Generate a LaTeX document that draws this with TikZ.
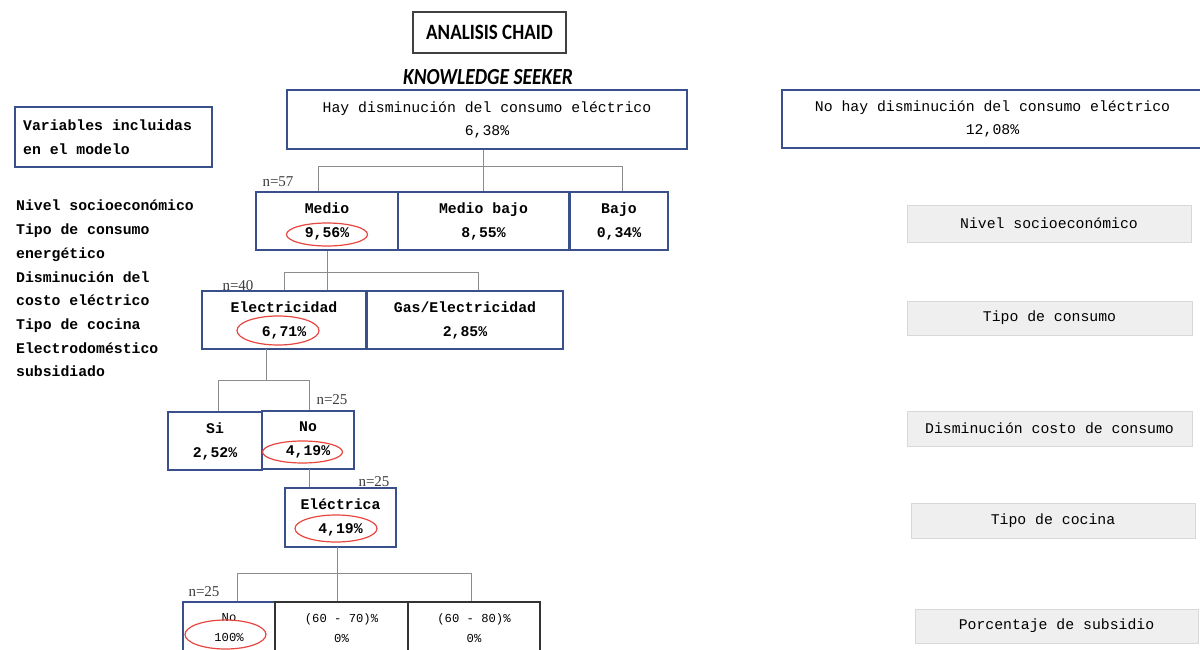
\documentclass[tikz,border=0pt]{standalone}
\usepackage{fontspec}
\setmainfont{Liberation Serif}
\newfontfamily\monofont{Liberation Mono}
\newfontfamily\calfont{Carlito}
\usetikzlibrary{shapes.geometric}
\definecolor{boxblue}{RGB}{58,80,140}
\definecolor{linegray}{RGB}{140,140,140}
\definecolor{markred}{RGB}{232,70,64}
\definecolor{panelfill}{RGB}{239,239,239}
\definecolor{paneledge}{RGB}{216,216,216}
\definecolor{countgray}{RGB}{60,60,60}

\begin{document}
\begin{tikzpicture}[x=1pt,y=-1pt,
  titlebox/.style={draw=black!75, line width=1.2pt, inner sep=0pt,
    minimum width=153, minimum height=41,
    font=\calfont\bfseries\fontsize{19}{20}\selectfont},
  topbox/.style={draw=boxblue, line width=1.4pt, fill=white, align=center, inner sep=0pt,
    font=\monofont\fontsize{14.8}{23}\selectfont},
  treebox/.style={draw=boxblue, line width=1.4pt, fill=white, align=center, inner sep=0pt,
    minimum height=58, font=\monofont\bfseries\fontsize{14.8}{24}\selectfont},
  leafbox/.style={draw=boxblue, line width=1.4pt, fill=white, align=center, inner sep=0pt,
    minimum height=52, font=\monofont\fontsize{12.2}{20}\selectfont},
  leafdark/.style={leafbox, draw=black!80},
  panel/.style={draw=paneledge, line width=0.8pt, fill=panelfill, inner sep=0pt,
    font=\monofont\fontsize{14.8}{18}\selectfont},
  conn/.style={draw=linegray, line width=1pt},
  ring/.style={ellipse, draw=markred, line width=1.2pt, inner sep=0pt},
  count/.style={text=countgray, inner sep=0pt, font=\fontsize{15}{16}\selectfont}
]
\useasboundingbox (0,0) rectangle (1200,650);
\clip (0,0) rectangle (1200,650);

% heading
\node[titlebox] (title) at (489.5,32.5) {\scalebox{1}[1.15]{ANALISIS CHAID}};
\node[inner sep=0pt, font=\calfont\bfseries\itshape\fontsize{19.5}{20}\selectfont]
  (seeker) at (488,77) {\scalebox{1}[1.18]{KNOWLEDGE SEEKER}};

% root classes
\node[topbox, minimum width=400, minimum height=59] (hay) at (487,119.5)
  {Hay disminución del consumo eléctrico\\6,38\%};
\node[topbox, minimum width=421, minimum height=58] (nohay) at (992.5,119)
  {No hay disminución del consumo eléctrico\\12,08\%};

% left legend
\node[draw=boxblue, line width=1.3pt, inner sep=0pt, minimum width=197, minimum height=60]
  (vars) at (113.5,137) {};
\node[anchor=west, align=left, inner sep=0pt,
  font=\monofont\bfseries\fontsize{14.8}{24}\selectfont]
  (varstext) at (23,137) {Variables incluidas\\en el modelo};
\node[anchor=north west, align=left, inner sep=0pt,
  font=\monofont\bfseries\fontsize{14.8}{23.7}\selectfont] (varlist) at (16,200)
  {Nivel socioeconómico\\Tipo de consumo\\energético\\Disminución del\\costo eléctrico\\
   Tipo de cocina\\Electrodoméstico\\subsidiado};

% level 1
\node[treebox, minimum width=142] (medio) at (327,221) {Medio\\9,56\%};
\node[treebox, minimum width=171] (mediobajo) at (483.5,221) {Medio bajo\\8,55\%};
\node[treebox, minimum width=98] (bajo) at (619,221) {Bajo\\0,34\%};

% level 2
\node[treebox, minimum width=164] (elec) at (284,320) {Electricidad\\6,71\%};
\node[treebox, minimum width=196] (gas) at (465,320) {Gas/Electricidad\\2,85\%};

% level 3
\node[treebox, minimum width=94] (si) at (215,441) {Si\\2,52\%};
\node[treebox, minimum width=92] (no) at (308,440) {No\\4,19\%};

% level 4
\node[treebox, minimum width=111, minimum height=59] (electrica) at (340.5,517.5) {Eléctrica\\4,19\%};

% level 5
\node[leafbox, minimum width=92] (nosub) at (229,628) {No\\100\%};
\node[leafdark, minimum width=133] (sub70) at (341.5,628) {(60 - 70)\%\\0\%};
\node[leafdark, minimum width=132] (sub80) at (474,628) {(60 - 80)\%\\0\%};

% branch connectors
\coordinate (a1) at (318,167);
\coordinate (a2) at (622,167);
\draw[conn] (hay.south -| mediobajo.north) -- (mediobajo.north);
\draw[conn] (a1 |- medio.north) -- (a1) -- (a2) -- (a2 |- bajo.north);

\coordinate (b1) at (284,272);
\coordinate (b2) at (478,272);
\draw[conn] (medio.south) -- (medio.south |- elec.north);
\draw[conn] (b1 |- elec.north) -- (b1) -- (b2) -- (b2 |- gas.north);

\coordinate (c0) at (266,349);
\coordinate (c1) at (218,380);
\coordinate (c2) at (309,380);
\draw[conn] (c0) -- (c0 |- c1);
\draw[conn] (c1 |- si.north) -- (c1) -- (c2) -- (c2 |- no.north);

\coordinate (d0) at (309,469);
\draw[conn] (d0) -- (d0 |- electrica.north);

\coordinate (e0) at (337,547);
\coordinate (e1) at (237,573);
\coordinate (e2) at (471,573);
\draw[conn] (e0) -- (e0 |- sub70.north);
\draw[conn] (e1 |- nosub.north) -- (e1) -- (e2) -- (e2 |- sub80.north);

% highlighted values
\node[ring, minimum width=81, minimum height=23] (r1) at (327,234.5) {};
\node[ring, minimum width=82, minimum height=29] (r2) at (278,330.5) {};
\node[ring, minimum width=80, minimum height=22] (r3) at (302.5,452) {};
\node[ring, minimum width=82, minimum height=27] (r4) at (336,528.5) {};
\node[ring, minimum width=81, minimum height=29] (r5) at (225.5,634.5) {};

% group sizes
\node[count] (n57) at (278,182) {n=57};
\node[count] (n40) at (238,286) {n=40};
\node[count] (n25a) at (332,400) {n=25};
\node[count] (n25b) at (374,482) {n=25};
\node[count] (n25c) at (204,592) {n=25};

% split variables
\node[panel, minimum width=284, minimum height=37] (p1) at (1049,223.5) {Nivel socioeconómico};
\node[panel, minimum width=285, minimum height=34] (p2) at (1049.5,318) {Tipo de consumo};
\node[panel, minimum width=285, minimum height=35] (p3) at (1049.5,428.5) {Disminución costo de consumo};
\node[panel, minimum width=284, minimum height=35] (p4) at (1053,520.5) {Tipo de cocina};
\node[panel, minimum width=283, minimum height=34] (p5) at (1056.5,626) {Porcentaje de subsidio};
\end{tikzpicture}
\end{document}
